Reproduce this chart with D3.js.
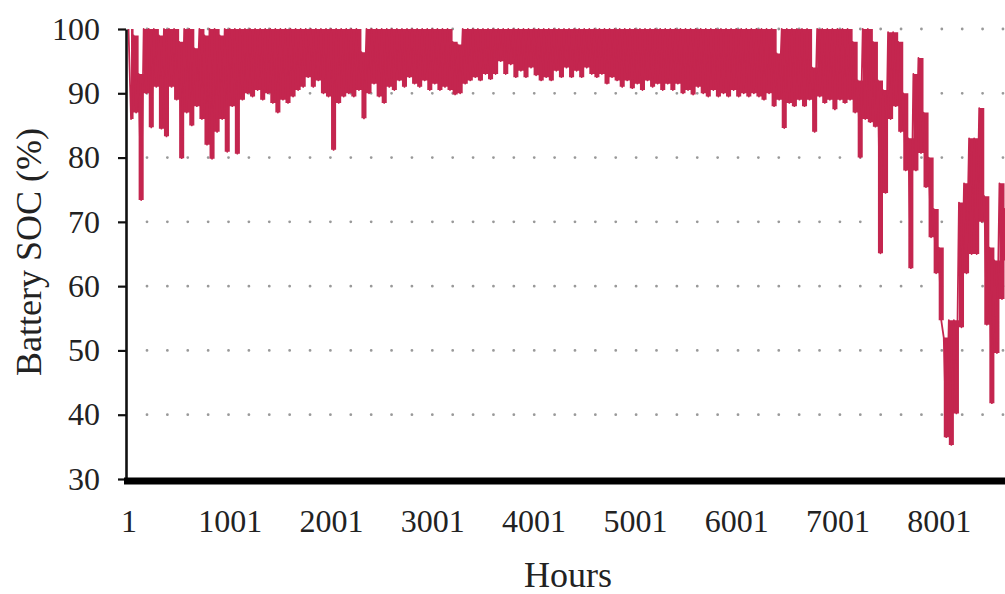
<!DOCTYPE html>
<html>
<head>
<meta charset="utf-8">
<script src="https://cdn.jsdelivr.net/npm/d3@7"></script>
<style>
body { margin: 0; background: #fff; }
text { font-family: "Liberation Serif", "DejaVu Serif", serif; fill: #222; }
</style>
</head>
<body>
<svg width="1005" height="594"></svg>
<script>
const binHours = 50;
const xTicks = [1, 1001, 2001, 3001, 4001, 5001, 6001, 7001, 8001];
const yTicks = [30, 40, 50, 60, 70, 80, 90, 100];

const socHigh = [
    100, 99, 93, 100, 100, 100, 99, 100, 100, 100,
    98, 100, 100, 97, 100, 99, 100, 100, 99, 100,
    100, 100, 100, 100, 100, 100, 100, 100, 100, 100,
    100, 100, 100, 100, 100, 100, 100, 100, 100, 100,
    100, 100, 100, 100, 100, 100, 96.4, 100, 100, 100,
    100, 100, 100, 100, 100, 100, 100, 100, 100, 100,
    100, 100, 100, 100, 98, 97.6, 100, 100, 100, 100,
    100, 100, 100, 100, 100, 100, 100, 100, 100, 100,
    100, 100, 100, 100, 100, 100, 100, 100, 100, 100,
    100, 100, 100, 100, 100, 100, 100, 100, 100, 100,
    100, 100, 100, 100, 100, 100, 100, 100, 100, 100,
    100, 100, 100, 100, 100, 100, 100, 100, 100, 100,
    100, 100, 100, 100, 100, 100, 100, 100, 96.2, 100,
    100, 100, 100, 100, 100, 94, 100, 100, 100, 100,
    100, 100, 100, 98, 92, 100, 100, 98, 92, 90.5,
    99.5, 99.5, 98, 90, 83, 93, 95.5, 87, 80, 72,
    66, 52, 54.7, 54.7, 73, 76, 83, 83, 87.7, 74,
    66, 64, 76, 72
];

const socLow = [
    86, 87, 73.4, 90, 84.7, 91, 84.5, 83.3, 91, 89,
    79.9, 87, 85, 88, 86, 82, 79.8, 84, 86, 80.9,
    88, 80.6, 89, 90, 89.5, 90.5, 89, 90, 88.5, 87,
    89, 88.5, 89.5, 90.5, 91, 92.5, 91, 92, 90, 89.5,
    81.2, 88.5, 89.5, 90, 89.5, 90.5, 86.1, 90, 91.5, 89.5,
    88.5, 91, 90.5, 92, 91, 92.5, 91.5, 91, 92, 90.5,
    91.5, 90.5, 91, 90.5, 89.8, 90, 91.5, 92, 92.5, 92,
    93, 92.2, 93, 95, 93, 94.5, 92.5, 93.5, 92.5, 94,
    92.8, 92, 92.5, 92, 93.5, 92.5, 94, 92.5, 93.5, 92.5,
    94, 93, 92.5, 93, 91.5, 92.5, 92, 91, 92, 90.8,
    91.5, 90.5, 92, 91, 91.5, 90.5, 91.5, 90.5, 91.5, 90,
    90.5, 89.8, 91, 90, 89.5, 90.5, 89.5, 90, 89.5, 90.5,
    89.5, 90, 89.5, 90, 89.5, 89, 90, 88, 89, 84.6,
    88.5, 88, 89, 88, 89, 84, 89.5, 88.5, 89, 87.5,
    89, 88.5, 89, 87, 80, 86, 85.5, 84.8, 65.1, 74.5,
    86, 88, 84, 78, 62.8, 78, 80.7, 75.4, 67.6, 62,
    54.7, 36.5, 35.3, 40.2, 53.6, 62, 65, 65, 70, 54,
    41.8, 49.6, 58, 64
];

var blocks = socHigh.map(function(v, i) {
    return {hour: 1 + i * binHours, high: v, low: socLow[i]};
});

// daily swing: max at block start, min mid block
var swing = [];
blocks.forEach(function(d) {
    swing.push({hour: d.hour, soc: d.high});
    swing.push({hour: d.hour + binHours / 2, soc: d.low});
});

var svg = d3.select("svg");

var x = d3.scaleLinear().domain([1, 8001]).range([128.5, 938.7]);
var y = d3.scaleLinear().domain([30, 100]).range([479, 29]);

// dotted grid
svg.append("g")
    .selectAll("line")
    .data(yTicks.filter(function(d) { return d > 30; }))
    .enter().append("line")
    .attr("x1", 147)
    .attr("x2", 1005)
    .attr("y1", function(d) { return y(d); })
    .attr("y2", function(d) { return y(d); })
    .attr("stroke", "#999")
    .attr("stroke-width", 2.8)
    .attr("stroke-linecap", "round")
    .attr("stroke-dasharray", "0 20.38");

var socColor = "#c4264f";

// band between block min and max
svg.append("path")
    .datum(blocks)
    .attr("fill", socColor)
    .attr("d", d3.area()
        .curve(d3.curveStep)
        .x(function(d) { return x(d.hour + binHours / 2); })
        .y0(function(d) { return y(d.low); })
        .y1(function(d) { return y(d.high); }));

// the swinging trace on top
svg.append("path")
    .datum(swing)
    .attr("fill", "none")
    .attr("stroke", socColor)
    .attr("stroke-width", 1.8)
    .attr("stroke-linejoin", "round")
    .attr("d", d3.line()
        .x(function(d) { return x(d.hour); })
        .y(function(d) { return y(d.soc); }));

// y axis
var yAxis = svg.append("g")
    .attr("transform", "translate(126,0)")
    .call(d3.axisLeft(y).tickValues(yTicks).tickSize(8).tickSizeOuter(0).tickPadding(18));
yAxis.select(".domain").attr("stroke", "#111").attr("stroke-width", 2.6);
yAxis.selectAll(".tick line").attr("stroke", "#111").attr("stroke-width", 2.2);
yAxis.selectAll("text").attr("font-size", 32).attr("font-family", null);

// x axis, labels only
var xAxis = svg.append("g")
    .attr("transform", "translate(0,480)")
    .call(d3.axisBottom(x).tickValues(xTicks).tickSize(0).tickFormat(d3.format("d")));
xAxis.select(".domain").remove();
xAxis.selectAll("text")
    .attr("font-size", 32)
    .attr("font-family", null)
    .attr("dy", null)
    .attr("y", 52);

// heavy base line
svg.append("line")
    .attr("x1", 124).attr("x2", 1005)
    .attr("y1", 481).attr("y2", 481)
    .attr("stroke", "#000")
    .attr("stroke-width", 7);

svg.append("text")
    .attr("x", 568)
    .attr("y", 587)
    .attr("text-anchor", "middle")
    .attr("font-size", 36)
    .text("Hours");

svg.append("text")
    .attr("transform", "translate(41,252) rotate(-90)")
    .attr("text-anchor", "middle")
    .attr("font-size", 36)
    .text("Battery SOC (%)");
</script>
</body>
</html>
